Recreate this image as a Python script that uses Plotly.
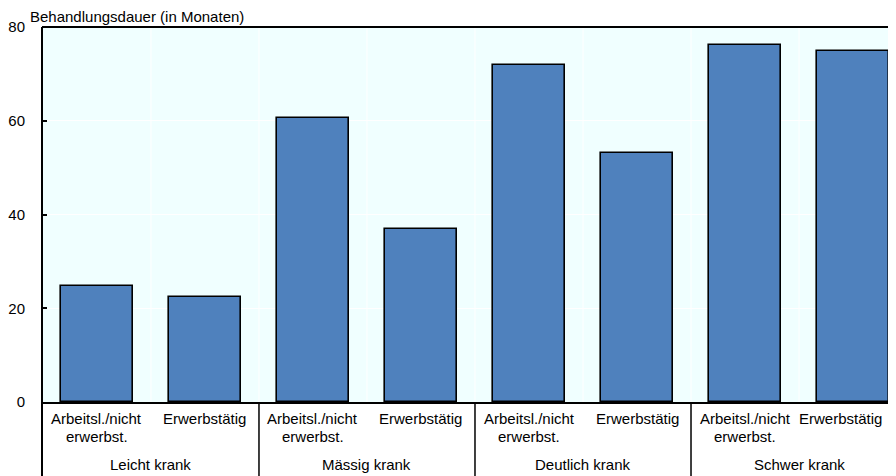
import plotly.graph_objects as go

groups = ["Leicht krank", "Mässig krank", "Deutlich krank", "Schwer krank"]
sub_line1 = ["Arbeitsl./nicht", "Erwerbstätig"]
sub_line2 = ["erwerbst.", ""]
values = [24.7, 22.4, 60.6, 36.9, 71.9, 53.1, 76.1, 74.8]
y_title = "Behandlungsdauer (in Monaten)"
y_ticks = [0, 20, 40, 60, 80]

FONT = "Liberation Sans, Arial, sans-serif"
xs = list(range(len(values)))

fig = go.Figure()
fig.add_trace(go.Bar(
    x=xs, y=values, width=0.667,
    marker=dict(color="#4F81BD", line=dict(color="black", width=1.6)),
    hoverinfo="y",
))

# page has an 8px body margin; compensate
W, H = 888, 468
ml, mr, mt = 34, 0, 19
ph = 375
mb = H - mt - ph
bottom = -mb / ph

shapes = []
for b in [i + 0.5 for i in range(len(values) - 1)]:
    shapes.append(dict(type="line", xref="x", yref="paper", x0=b, x1=b, y0=0, y1=1,
                       line=dict(color="white", width=1), layer="below"))
for g in range(1, len(groups)):
    b = 2 * g - 0.5
    shapes.append(dict(type="line", xref="x", yref="paper", x0=b, x1=b, y0=0, y1=bottom,
                       line=dict(color="black", width=1.5)))
shapes.append(dict(type="line", xref="paper", yref="paper", x0=0, x1=0, y0=1, y1=bottom,
                   line=dict(color="black", width=2)))
shapes.append(dict(type="line", xref="paper", yref="paper", x0=0, x1=1, y0=1, y1=1,
                   line=dict(color="black", width=2)))

annotations = []
lab_font = dict(family=FONT, size=15, color="black")
for i in xs:
    xshift = -13 if i == len(values) - 1 else 0
    annotations.append(dict(x=i, y=0, xref="x", yref="paper", text=sub_line1[i % 2],
                            showarrow=False, xanchor="center", yanchor="middle", yshift=-16,
                            xshift=xshift, font=lab_font))
    if sub_line2[i % 2]:
        annotations.append(dict(x=i, y=0, xref="x", yref="paper", text=sub_line2[i % 2],
                                showarrow=False, xanchor="center", yanchor="middle", yshift=-34,
                                font=lab_font))
for g, name in enumerate(groups):
    annotations.append(dict(x=2 * g + 0.5, y=0, xref="x", yref="paper", text=name,
                            showarrow=False, xanchor="center", yanchor="middle", yshift=-62,
                            font=lab_font))
annotations.append(dict(x=0, y=1, xref="paper", yref="paper", text=y_title, showarrow=False,
                        xanchor="left", yanchor="bottom", xshift=-14, yshift=0,
                        font=dict(family=FONT, size=15, color="black")))

fig.update_layout(
    width=W, height=H,
    margin=dict(l=ml, r=mr, t=mt, b=mb),
    paper_bgcolor="white",
    plot_bgcolor="#F0FFFF",
    showlegend=False,
    bargap=0,
    font=dict(family=FONT, size=15, color="black"),
    shapes=shapes,
    annotations=annotations,
    xaxis=dict(range=[-0.509, 7.398], showticklabels=False, ticks="", showgrid=False,
               zeroline=False, showline=True, linecolor="black", linewidth=2),
    yaxis=dict(range=[0, 80], tickvals=y_ticks, ticks="inside", ticklen=5, tickwidth=1.5,
               tickcolor="black", showgrid=True, gridcolor="white", gridwidth=1,
               zeroline=False, showline=False, ticklabelstandoff=16,
               tickfont=dict(family=FONT, size=15, color="black")),
)

fig.write_html("out.html")
